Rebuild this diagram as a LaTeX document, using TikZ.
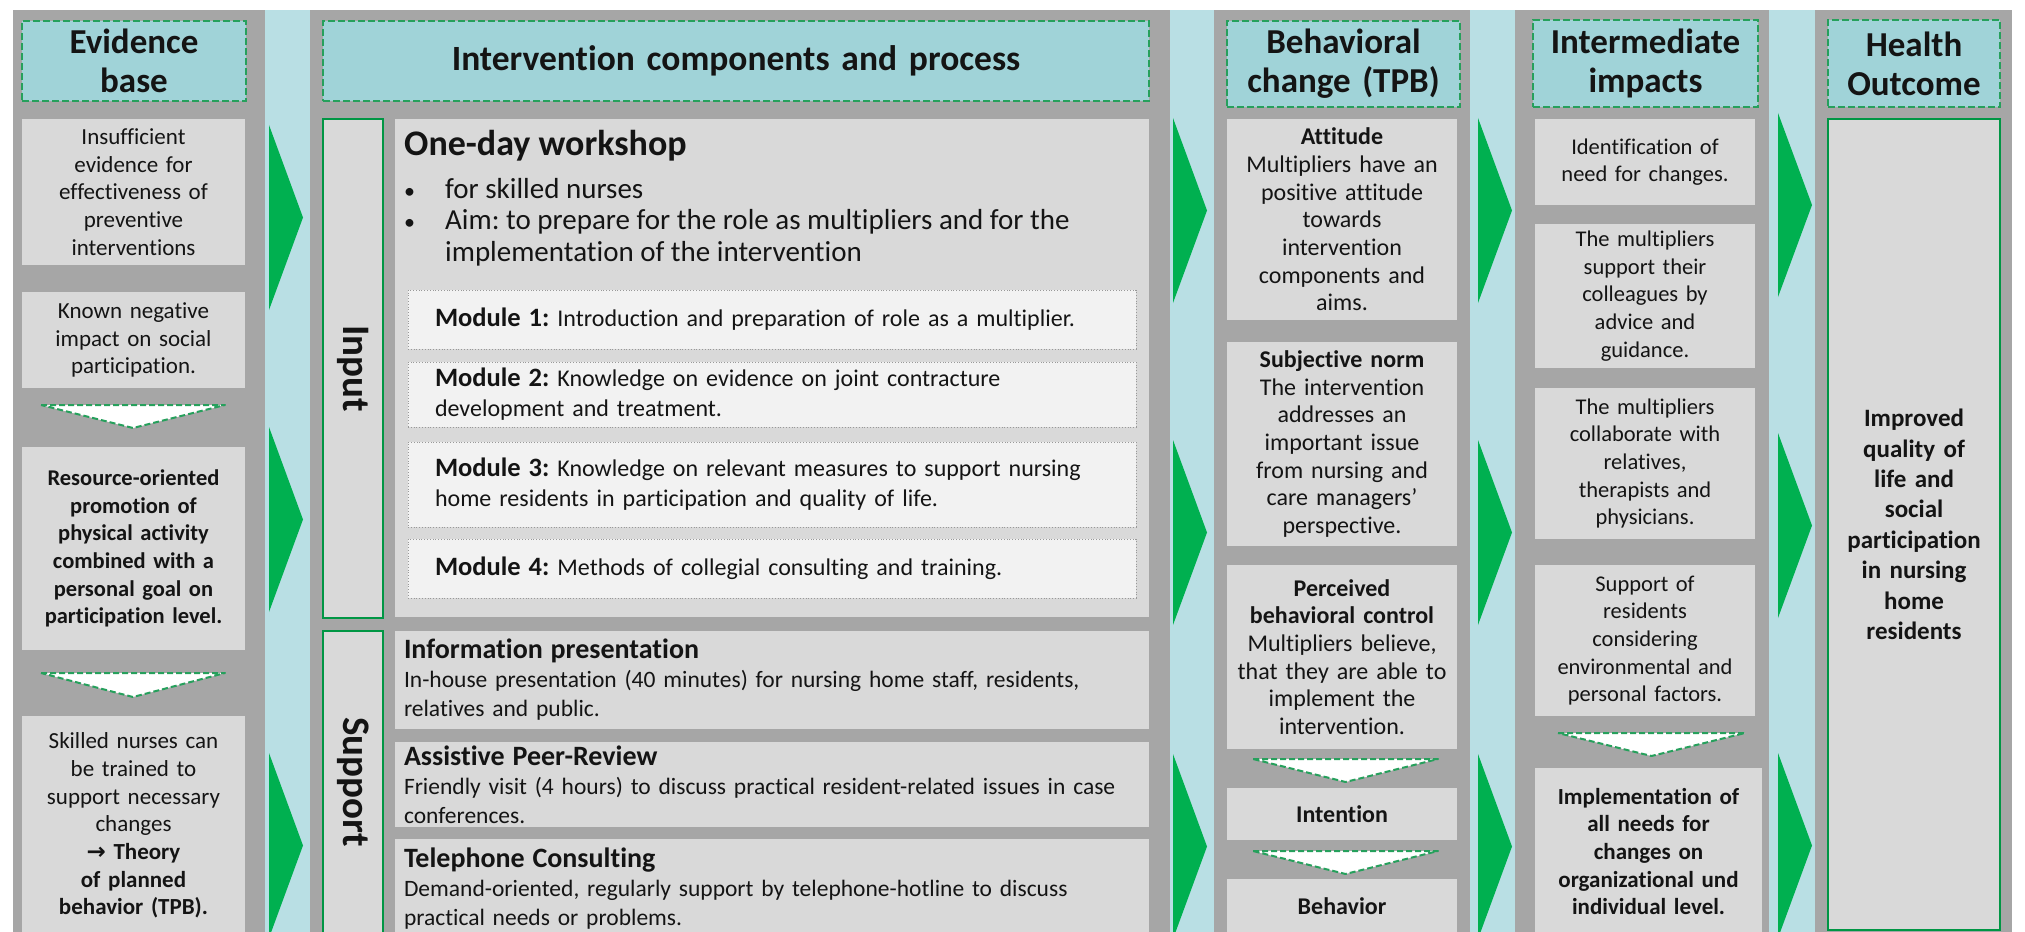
\documentclass[tikz,border=0pt]{standalone}
\usepackage{fontspec}
\setmainfont{Carlito}[Ligatures=NoCommon]
\newfontfamily\arrowfont{DejaVu Sans}
\usetikzlibrary{positioning}

\definecolor{panelgray}{RGB}{166,166,166}
\definecolor{stripblue}{RGB}{185,223,228}
\definecolor{headteal}{RGB}{160,211,216}
\definecolor{boxgray}{RGB}{217,217,217}
\definecolor{modgray}{RGB}{242,242,242}
\definecolor{arrowgreen}{RGB}{0,176,80}
\definecolor{dashgreen}{RGB}{38,160,92}
\definecolor{txt}{RGB}{20,20,20}

\newcommand{\fs}[2]{\fontsize{#1}{#2}\selectfont}
\newcommand{\modlabel}[1]{{\bfseries\fs{26.5}{30}#1}}
\newcommand{\suptitle}[1]{{\bfseries\fs{28}{31}#1}}

\tikzset{
  header/.style={draw=dashgreen, fill=headteal, line width=2pt, dash pattern=on 7pt off 3pt,
    align=center, inner sep=0pt, font=\bfseries\fs{35}{39}},
  evbox/.style={fill=boxgray, inner sep=0pt, align=center, minimum width=223pt,
    text width=217pt, font=\fs{23}{27.7}},
  tpbbox/.style={fill=boxgray, inner sep=0pt, align=center, minimum width=230pt,
    text width=226pt, font=\fs{24}{27.7}},
  impbox/.style={fill=boxgray, inner sep=0pt, align=center, minimum width=220pt,
    text width=216pt, font=\fs{22.5}{27.7}},
  sidebox/.style={fill=boxgray, draw=arrowgreen!85!black, line width=2pt, inner sep=0pt},
  sidelabel/.style={rotate=-90, font=\bfseries\fs{39}{42}},
  wsbox/.style={fill=boxgray, inner sep=0pt},
  modbox/.style={fill=modgray, draw=gray!80, dotted, line width=0.8pt, inner xsep=27pt,
    inner ysep=0pt, text width=674pt, minimum width=728pt, align=left, font=\fs{24}{30}},
  supbox/.style={fill=boxgray, inner xsep=9pt, inner ysep=0pt, text width=736pt,
    minimum width=754pt, align=left, font=\fs{23.5}{29}},
  downtri/.style={fill=white, draw=dashgreen, line width=2pt, dash pattern=on 6pt off 3pt,
    line join=round},
  blockarrow/.style={fill=arrowgreen}
}

\begin{document}
\frenchspacing
\begin{tikzpicture}[x=1pt, y=-1pt, text=txt]
\useasboundingbox (0,0) rectangle (2025,931);

% columns
\fill[panelgray] (13,10) rectangle (2012,940);
\fill[stripblue] (265,10) rectangle (310,940);
\fill[stripblue] (1170,10) rectangle (1214,940);
\fill[stripblue] (1470,10) rectangle (1515,940);
\fill[stripblue] (1769,10) rectangle (1815,940);

% arrows between the columns
\path[blockarrow]
  (269,125) -- (303,217.5) -- (269,310) -- cycle
  (269,427) -- (303,519.5) -- (269,612) -- cycle
  (269,753) -- (303,845.5) -- (269,938) -- cycle
  (1173,118) -- (1207,210.5) -- (1173,303) -- cycle
  (1173,440) -- (1207,532.5) -- (1173,625) -- cycle
  (1173,754) -- (1207,846.5) -- (1173,939) -- cycle
  (1478,118) -- (1512,210.5) -- (1478,303) -- cycle
  (1478,440) -- (1512,532.5) -- (1478,625) -- cycle
  (1478,754) -- (1512,846.5) -- (1478,939) -- cycle
  (1778,113) -- (1812,205) -- (1778,297) -- cycle
  (1778,433) -- (1812,525.5) -- (1778,618) -- cycle
  (1778,753) -- (1812,845.5) -- (1778,938) -- cycle;

% headers
\node[header, minimum width=224pt, minimum height=80pt, text width=214pt] (evhead) at (134,61) {Evidence\\base};
\node[header, minimum width=826pt, minimum height=80pt, text width=800pt, font=\bfseries\fs{35.5}{40}] (inthead) at (736,61) {Intervention components and process};
\node[header, minimum width=233pt, minimum height=86pt, text width=227pt] (behhead) at (1343.5,64) {Behavioral\\change (TPB)};
\node[header, minimum width=225pt, minimum height=87pt, text width=221pt] (imphead) at (1645.5,63.5) {Intermediate\\impacts};
\node[header, minimum width=172pt, minimum height=87pt, text width=168pt] (heahead) at (1914,63.5) {Health\\Outcome};

% evidence base
\node[evbox, minimum height=146pt] (ev1) at (133.5,192) {Insufficient\\evidence for\\effectiveness of\\preventive\\interventions};
\node[evbox, minimum height=96pt] (ev2) at (133.5,340) {Known negative\\impact on social\\participation.};
\node[evbox, minimum height=203pt, font=\bfseries\fs{22.5}{27.7}] (ev3) at (133.5,548.5) {Resource-oriented\\promotion of\\physical activity\\combined with a\\personal goal on\\participation level.};
\node[evbox, minimum height=219pt] (ev4) at (133.5,825.5) {Skilled nurses can\\be trained to\\support necessary\\changes\\\textbf{{\arrowfont →} Theory}\\\textbf{of planned}\\\textbf{behavior (TPB).}};
\draw[downtri] (41,405) -- (225,405) -- (133,428) -- cycle;
\draw[downtri] (41,673) -- (225,673) -- (133,697) -- cycle;

% intervention: input
\node[sidebox, minimum width=60pt, minimum height=499pt] (input) at (353,368.5) {};
\node[sidelabel] (inputlbl) at (input.center) {Input};
\node[wsbox, minimum width=754pt, minimum height=498pt] (workshop) at (772,368) {};
\node[anchor=west, inner sep=0pt, font=\bfseries\fs{36}{40}] (wstitle) at (404,146) {One-day workshop};
\node[anchor=north west, inner sep=0pt, font=\fs{29}{31.5}] (wsbullets) at (404,176)
  {\begin{tabular}{@{}p{41pt}@{}l@{}}
   {\fs{22}{31.5}\textbullet} & for skilled nurses\\
   {\fs{22}{31.5}\textbullet} & Aim: to prepare for the role as multipliers and for the\\
               & implementation of the intervention
   \end{tabular}};
\node[modbox, minimum height=59pt] (mod1) at (772,319.5) {\modlabel{Module 1:} Introduction and preparation of role as a multiplier.};
\node[modbox, minimum height=65pt] (mod2) at (772,394.5) {\modlabel{Module 2:} Knowledge on evidence on joint contracture\\development and treatment.};
\node[modbox, minimum height=85pt] (mod3) at (772,484.5) {\modlabel{Module 3:} Knowledge on relevant measures to support nursing\\home residents in participation and quality of life.};
\node[modbox, minimum height=59pt] (mod4) at (772,568.5) {\modlabel{Module 4:} Methods of collegial consulting and training.};

% intervention: support
\node[sidebox, minimum width=60pt, minimum height=302pt] (support) at (353,782) {};
\node[sidelabel] (supportlbl) at (support.center) {Support};
\node[supbox, minimum height=98pt] (info) at (772,680) {\suptitle{Information presentation}\\In-house presentation (40 minutes) for nursing home staff, residents,\\relatives and public.};
\node[supbox, minimum height=85pt] (peer) at (772,784.5) {\suptitle{Assistive Peer-Review}\\Friendly visit (4 hours) to discuss practical resident-related issues in case\\conferences.};
\node[supbox, minimum height=99pt] (phone) at (772,888.5) {\suptitle{Telephone Consulting}\\Demand-oriented, regularly support by telephone-hotline to discuss\\practical needs or problems.};

% behavioral change
\node[tpbbox, minimum height=201pt] (attitude) at (1342,219.5) {\textbf{Attitude}\\Multipliers have an\\positive attitude\\towards\\intervention\\components and\\aims.};
\node[tpbbox, minimum height=204pt] (norm) at (1342,444) {\textbf{Subjective norm}\\The intervention\\addresses an\\important issue\\from nursing and\\care managers’\\perspective.};
\node[tpbbox, minimum height=184pt] (control) at (1342,657) {\textbf{Perceived}\\\textbf{behavioral control}\\Multipliers believe,\\that they are able to\\implement the\\intervention.};
\node[tpbbox, minimum height=52pt, font=\bfseries\fs{24}{27.7}] (intention) at (1342,814) {Intention};
\node[tpbbox, minimum height=54pt, font=\bfseries\fs{24}{27.7}] (behavior) at (1342,906) {Behavior};
\draw[downtri] (1253,759) -- (1438,759) -- (1345.5,782) -- cycle;
\draw[downtri] (1253,851) -- (1438,851) -- (1345.5,874) -- cycle;

% intermediate impacts
\node[impbox, minimum height=86pt] (needs) at (1645,162) {Identification of\\need for changes.};
\node[impbox, minimum height=144pt] (advice) at (1645,296) {The multipliers\\support their\\colleagues by\\advice and\\guidance.};
\node[impbox, minimum height=151pt] (collab) at (1645,463.5) {The multipliers\\collaborate with\\relatives,\\therapists and\\physicians.};
\node[impbox, minimum height=151pt] (factors) at (1645,640.5) {Support of\\residents\\considering\\environmental and\\personal factors.};
\node[impbox, minimum width=227pt, minimum height=167pt, text width=223pt, font=\bfseries\fs{23}{27.7}] (implement) at (1648.5,851.5) {Implementation of\\all needs for\\changes on\\organizational und\\individual level.};
\draw[downtri] (1558,733) -- (1745,733) -- (1651.5,756) -- cycle;

% health outcome
\node[sidebox, minimum width=172pt, minimum height=811pt, align=center, text width=166pt, font=\bfseries\fs{25}{30.4}] (outcome) at (1914,524.5) {Improved\\quality of\\life and\\social\\participation\\in nursing\\home\\residents};
\end{tikzpicture}
\end{document}
